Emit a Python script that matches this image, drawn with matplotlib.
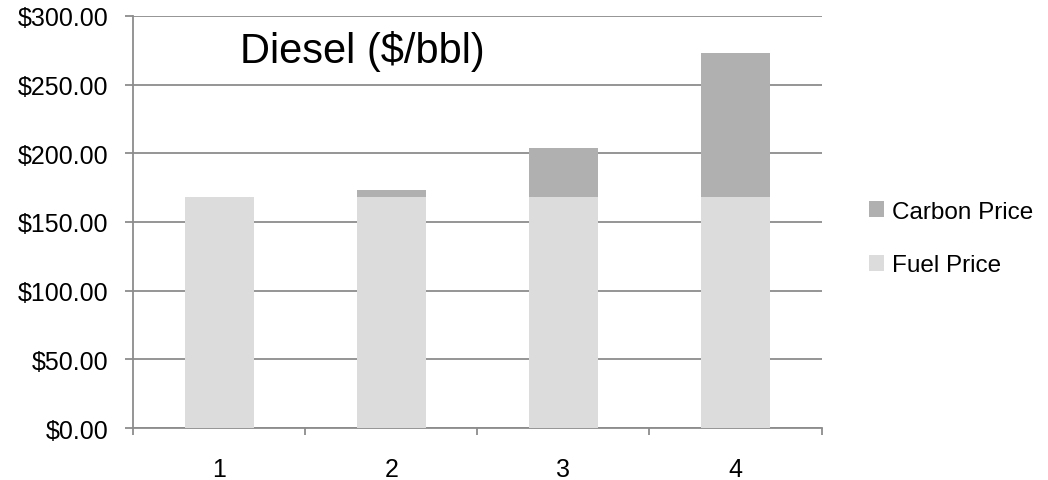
import numpy as np
from matplotlib import pyplot as plt
from matplotlib.ticker import FuncFormatter

plt.rcParams['font.family'] = ['Liberation Sans', 'DejaVu Sans']

categories = ['1', '2', '3', '4']
fuel_price = [168.0, 168.0, 168.0, 168.0]
carbon_price = [0.0, 5.5, 36.0, 105.0]

fuel_color = '#dcdcdc'
carbon_color = '#b0b0b0'
grid_color = '#8c8c8c'

fig = plt.figure(figsize=(10.48, 4.81), dpi=100)
ax = fig.add_axes([0.127, 0.108, 0.657, 0.857])

x = np.arange(len(categories))
ax.bar(x, fuel_price, width=0.4, color=fuel_color, label='Fuel Price', zorder=3)
ax.bar(x, carbon_price, width=0.4, bottom=fuel_price, color=carbon_color,
       label='Carbon Price', zorder=3)

ax.set_xlim(-0.5, len(categories) - 0.5)
ax.set_ylim(0, 300)
ax.set_yticks(np.arange(0, 301, 50))
ax.yaxis.set_major_formatter(FuncFormatter(lambda v, p: '${:,.2f}'.format(v)))
ax.set_xticks(x)
ax.set_xticklabels(categories)
ax.set_xticks(np.arange(-0.5, len(categories), 1.0), minor=True)

# gridlines and axis styling
ax.yaxis.grid(True, color=grid_color, linewidth=1.3, zorder=0)
for side in ['top', 'right']:
    ax.spines[side].set_visible(False)
for side in ['left', 'bottom']:
    ax.spines[side].set_color(grid_color)
    ax.spines[side].set_linewidth(1.3)
ax.tick_params(axis='y', length=6, width=1.3, color=grid_color, labelsize=18, pad=12)
ax.tick_params(axis='x', which='major', length=0, labelsize=18, pad=21)
ax.tick_params(axis='x', which='minor', length=5, width=1.3, color=grid_color)

ax.text(0.333, 0.915, 'Diesel ($/bbl)', transform=ax.transAxes, fontsize=30,
        ha='center', va='center')

handles, labels = ax.get_legend_handles_labels()
fig.legend(handles[::-1], labels[::-1], loc='center left', bbox_to_anchor=(0.808, 0.502),
           frameon=False, fontsize=17.5, handlelength=0.65, handleheight=0.65,
           handletextpad=0.3, labelspacing=1.3)

plt.savefig('out.png', dpi=100)
